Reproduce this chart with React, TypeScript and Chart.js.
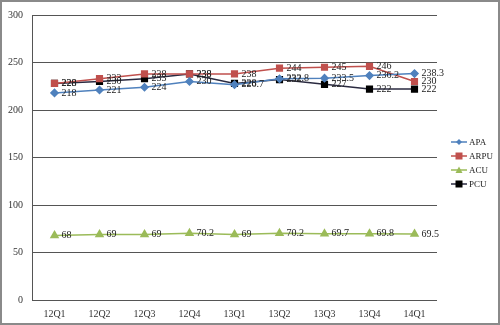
import React, { useEffect, useRef } from "react";
import { Chart, registerables } from "chart.js";

Chart.register(...registerables);

const categories = ["12Q1", "12Q2", "12Q3", "12Q4", "13Q1", "13Q2", "13Q3", "13Q4", "14Q1"];
const apa = [218, 221, 224, 230, 226.7, 232.8, 233.5, 236.2, 238.3];
const arpu = [228, 233, 238, 238, 238, 244, 245, 246, 230];
const acu = [68, 69, 69, 70.2, 69, 70.2, 69.7, 69.8, 69.5];
const pcu = [228, 230, 233, 238, 228, 232, 227, 222, 222];
const yTicks = [0, 50, 100, 150, 200, 250, 300];

const seriesNames = ["APA", "ARPU", "ACU", "PCU"];
const seriesColors = ["#4F81BD", "#C0504D", "#9BBB59", "#000000"];
const lineColors = ["#4F81BD", "#C0504D", "#9BBB59", "#2a2a40"];
const pointStyles = ["rectRot", "rect", "triangle", "rect"];
const pointRadii = [3.5, 4, 4, 4];

const FONT = "'Liberation Serif', 'DejaVu Serif', serif";

const labelPlugin = {
  id: "valueLabels",
  afterDatasetsDraw(chart: any) {
    const ctx = chart.ctx;
    ctx.save();
    ctx.font = `10px ${FONT}`;
    ctx.fillStyle = "#222";
    ctx.textAlign = "left";
    ctx.textBaseline = "middle";
    chart.data.datasets.forEach((ds: any, i: number) => {
      const meta = chart.getDatasetMeta(i);
      meta.data.forEach((pt: any, j: number) => {
        ctx.fillText(String(ds.data[j]), pt.x + 7, pt.y);
      });
    });
    ctx.restore();
  },
};

const legendPlugin = {
  id: "customLegend",
  afterDraw(chart: any) {
    const ctx = chart.ctx;
    ctx.save();
    const x0 = 451;
    const ys = [142, 156, 170, 184];
    ctx.font = `9px ${FONT}`;
    ctx.textBaseline = "middle";
    ctx.textAlign = "left";
    seriesNames.forEach((name, i) => {
      const y = ys[i];
      ctx.strokeStyle = lineColors[i];
      ctx.lineWidth = 1.5;
      ctx.beginPath();
      ctx.moveTo(x0, y);
      ctx.lineTo(x0 + 16, y);
      ctx.stroke();
      ctx.fillStyle = seriesColors[i];
      const cx = x0 + 8;
      ctx.beginPath();
      if (pointStyles[i] === "rectRot") {
        ctx.moveTo(cx, y - 3);
        ctx.lineTo(cx + 3, y);
        ctx.lineTo(cx, y + 3);
        ctx.lineTo(cx - 3, y);
        ctx.closePath();
      } else if (pointStyles[i] === "triangle") {
        ctx.moveTo(cx, y - 3.5);
        ctx.lineTo(cx + 3.5, y + 3);
        ctx.lineTo(cx - 3.5, y + 3);
        ctx.closePath();
      } else {
        ctx.rect(cx - 3.5, y - 3.5, 7, 7);
      }
      ctx.fill();
      ctx.fillStyle = "#222";
      ctx.fillText(name, x0 + 18, y + 0.5);
    });
    ctx.restore();
  },
};

export default function App() {
  const ref = useRef<HTMLCanvasElement | null>(null);
  useEffect(() => {
    if (!ref.current) return;
    const data = [apa, arpu, acu, pcu];
    const chart = new Chart(ref.current, {
      type: "line",
      data: {
        labels: categories,
        datasets: data.map((d, i) => ({
          label: seriesNames[i],
          data: d,
          borderColor: lineColors[i],
          backgroundColor: seriesColors[i],
          pointBackgroundColor: seriesColors[i],
          pointBorderColor: seriesColors[i],
          pointStyle: pointStyles[i] as any,
          pointRadius: pointRadii[i],
          borderWidth: 1.5,
          tension: 0,
          fill: false,
        })),
      },
      options: {
        responsive: false,
        animation: false,
        events: [],
        layout: { padding: { left: 0, top: 12, right: 63, bottom: 0 } },
        plugins: { legend: { display: false }, tooltip: { enabled: false } },
        scales: {
          x: {
            offset: true,
            grid: { display: false, drawTicks: false },
            border: { display: false },
            ticks: { font: { family: FONT, size: 10 }, color: "#333", padding: 8, maxRotation: 0 },
            afterFit(scale: any) {
              scale.height = 25;
            },
          },
          y: {
            min: 0,
            max: 300,
            afterBuildTicks(scale: any) {
              scale.ticks = yTicks.map((v) => ({ value: v }));
            },
            grid: { color: "#555", lineWidth: 1, drawTicks: false },
            border: { display: true, color: "#555", width: 1 },
            ticks: { font: { family: FONT, size: 10 }, color: "#333", padding: 9 },
            afterFit(scale: any) {
              scale.width = 32;
            },
          },
        },
      },
      plugins: [labelPlugin, legendPlugin],
    });
    return () => chart.destroy();
  }, []);
  return (
    <div
      style={{
        position: "fixed",
        left: 0,
        top: 0,
        width: 500,
        height: 325,
        background: "#fff",
      }}
    >
      <canvas ref={ref} width={500} height={325} style={{ display: "block" }} />
      <div
        style={{
          position: "absolute",
          left: 0,
          top: 0,
          width: 500,
          height: 325,
          boxSizing: "border-box",
          border: "2px solid #8a8a8a",
          pointerEvents: "none",
        }}
      />
    </div>
  );
}
